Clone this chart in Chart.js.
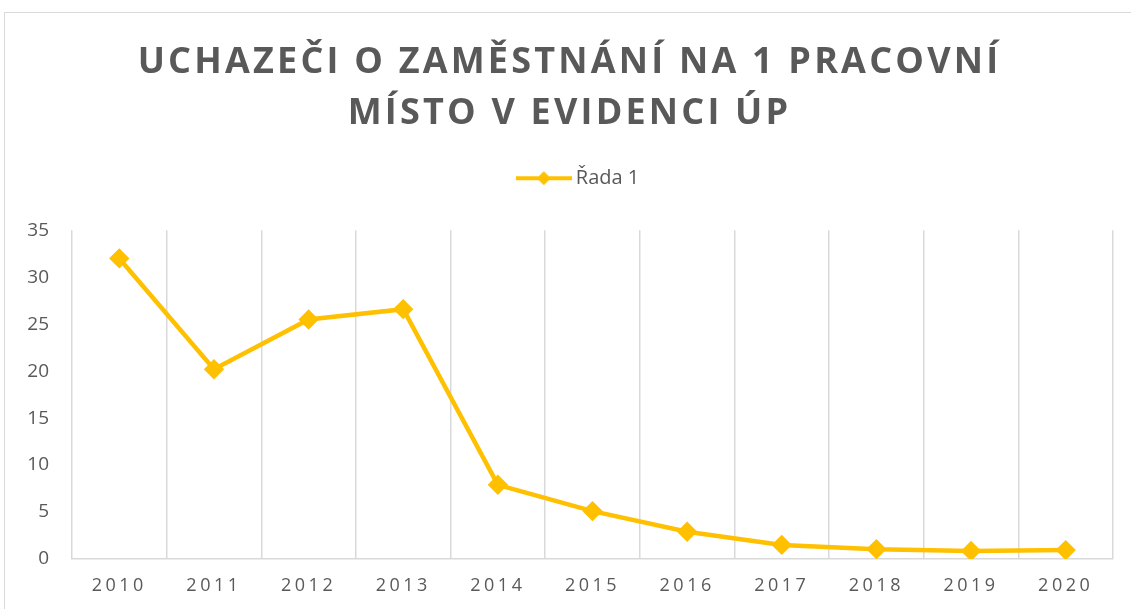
<!DOCTYPE html>
<html>
<head>
<meta charset="utf-8">
<script src="https://cdn.jsdelivr.net/npm/chart.js@4.4.0/dist/chart.umd.min.js"></script>
<style>
  html, body { margin: 0; padding: 0; background: #fff; }
  #wrap { position: relative; width: 1131px; height: 609px; overflow: hidden; }
  #frame { position: absolute; left: 4px; top: 12px; width: 1200px; height: 700px; border: 1px solid #d9d9d9; }
  canvas { position: absolute; left: 0; top: 0; }
</style>
</head>
<body>
<div id="wrap">
  <div id="frame"></div>
  <canvas id="chart" width="1131" height="609"></canvas>
</div>
<script>
var years = ["2010", "2011", "2012", "2013", "2014", "2015", "2016", "2017", "2018", "2019", "2020"];
var uchazeci = [32.0, 20.2, 25.5, 26.6, 7.9, 5.1, 2.9, 1.5, 1.05, 0.85, 0.95];
var yTicks = [0, 5, 10, 15, 20, 25, 30, 35];
var titleLines = ["UCHAZEČI O ZAMĚSTNÁNÍ NA 1 PRACOVNÍ", "MÍSTO V EVIDENCI ÚP"];
var seriesName = "Řada 1";

var gold = "#FFC000";
var grey = "#595959";
var gridGrey = "#d9d9d9";

// line + diamond for the legend, like Excel draws it
function legendIcon() {
  var c = document.createElement("canvas");
  c.width = 56;
  c.height = 16;
  var g = c.getContext("2d");
  g.strokeStyle = gold;
  g.lineWidth = 4;
  g.beginPath();
  g.moveTo(0, 8);
  g.lineTo(56, 8);
  g.stroke();
  g.fillStyle = gold;
  g.beginPath();
  g.moveTo(28, 1);
  g.lineTo(35, 8);
  g.lineTo(28, 15);
  g.lineTo(21, 8);
  g.closePath();
  g.fill();
  return c;
}
var icon = legendIcon();

var spacing = {
  id: "spacing",
  afterInit: function (chart) {
    var title = chart.titleBlock;
    var drawTitle = title.draw;
    title.draw = function () {
      this.ctx.save();
      this.ctx.translate(3, 0);
      this.ctx.letterSpacing = "3.2px";
      drawTitle.apply(this, arguments);
      this.ctx.restore();
    };
    var legend = chart.legend;
    var fitLegend = legend.fit;
    legend.fit = function () {
      fitLegend.apply(this, arguments);
      this.height += 32;
    };
    var drawLegend = legend.draw;
    legend.draw = function () {
      this.ctx.save();
      this.ctx.translate(14, 0);
      drawLegend.apply(this, arguments);
      this.ctx.restore();
    };
  },
  beforeDraw: function (chart) {
    var x = chart.scales.x;
    if (!x._spaced) {
      var drawLabels = x.drawLabels;
      x.drawLabels = function () {
        this.ctx.save();
        this.ctx.letterSpacing = "3.5px";
        drawLabels.apply(this, arguments);
        this.ctx.restore();
      };
      x._spaced = true;
    }
  }
};

new Chart(document.getElementById("chart"), {
  type: "line",
  data: {
    labels: years,
    datasets: [{
      label: seriesName,
      data: uchazeci,
      borderColor: gold,
      backgroundColor: gold,
      borderWidth: 4.5,
      pointStyle: "rectRot",
      pointRadius: 7,
      pointHoverRadius: 7,
      pointBackgroundColor: gold,
      pointBorderColor: gold,
      tension: 0
    }]
  },
  options: {
    responsive: false,
    animation: false,
    layout: { padding: { left: 20, right: 18, top: 0, bottom: 0 } },
    plugins: {
      title: {
        display: true,
        text: titleLines,
        color: grey,
        font: { family: "Open Sans", size: 36, weight: "bold", lineHeight: 1.42 },
        padding: { top: 37, bottom: 19 }
      },
      legend: {
        display: true,
        labels: {
          color: grey,
          font: { family: "Open Sans", size: 20 },
          usePointStyle: true,
          pointStyleWidth: 44,
          boxHeight: 18,
          padding: 10,
          generateLabels: function (chart) {
            var items = Chart.defaults.plugins.legend.labels.generateLabels(chart);
            items.forEach(function (it) { it.pointStyle = icon; });
            return items;
          }
        }
      },
      tooltip: { enabled: false }
    },
    scales: {
      x: {
        offset: true,
        grid: { offset: true, color: gridGrey, lineWidth: 1.5, drawTicks: false },
        border: { color: gridGrey, width: 1.5 },
        ticks: { color: grey, font: { family: "Open Sans", size: 18 }, padding: 16, maxRotation: 0 },
        afterFit: function (s) { s.height = 50; }
      },
      y: {
        min: 0,
        max: 35,
        grid: { display: false },
        border: { display: false },
        ticks: { color: grey, font: { family: "Open Sans", size: 19 }, padding: 15 },
        afterBuildTicks: function (s) { s.ticks = yTicks.map(function (v) { return { value: v }; }); },
        afterFit: function (s) { s.width = 52; }
      }
    }
  },
  plugins: [spacing]
});
</script>
</body>
</html>
